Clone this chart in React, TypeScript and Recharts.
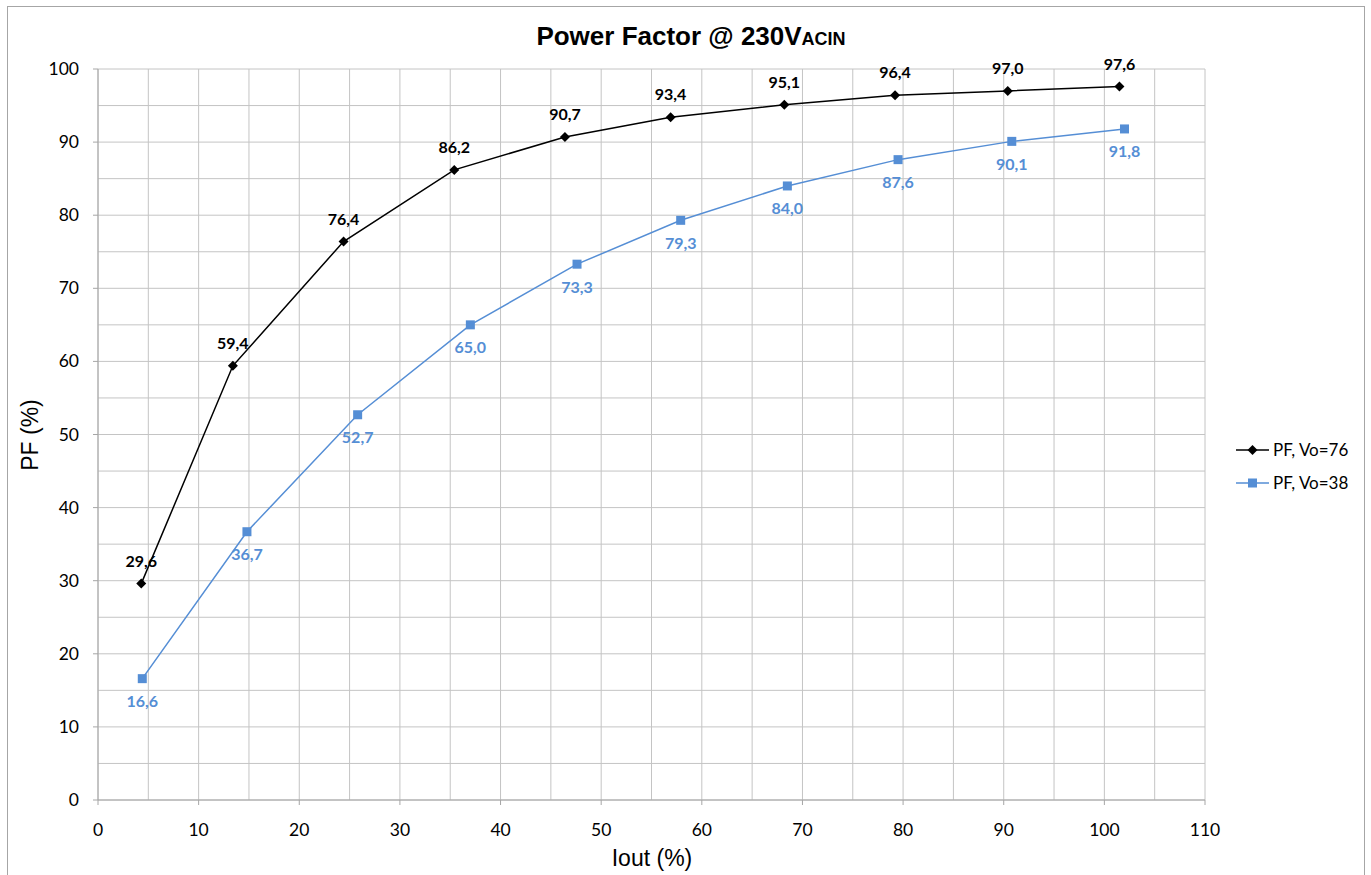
import { CartesianGrid, LabelList, Line, LineChart, XAxis, YAxis } from 'recharts';

const iout76 = [4.3, 13.4, 24.4, 35.4, 46.4, 56.9, 68.2, 79.2, 90.4, 101.5];
const pf76 = [29.6, 59.4, 76.4, 86.2, 90.7, 93.4, 95.1, 96.4, 97.0, 97.6];
const iout38 = [4.4, 14.8, 25.8, 37.0, 47.6, 57.9, 68.5, 79.5, 90.8, 102.0];
const pf38 = [16.6, 36.7, 52.7, 65.0, 73.3, 79.3, 84.0, 87.6, 90.1, 91.8];
const xTicks = [0, 5, 10, 15, 20, 25, 30, 35, 40, 45, 50, 55, 60, 65, 70, 75, 80, 85, 90, 95, 100, 105, 110];
const yTicks = [0, 5, 10, 15, 20, 25, 30, 35, 40, 45, 50, 55, 60, 65, 70, 75, 80, 85, 90, 95, 100];

const BLUE = '#558ed5';
const GRID = '#c4c4c4';
const AXIS = '#a6a6a6';
const LABEL_FONT = 'Lato, "Open Sans", sans-serif';
const ARIAL = '"Liberation Sans", Arial, sans-serif';

const data76 = iout76.map((x, i) => ({ x, y: pf76[i] }));
const data38 = iout38.map((x, i) => ({ x, y: pf38[i] }));
const fmt = (v: any) => Number(v).toFixed(1).replace('.', ',');

const XTick = ({ x, y, payload }: any) => {
  if (payload.value % 10 !== 0) return <g />;
  return (
    <g>
      <line x1={x} x2={x} y1={y} y2={y + 5} stroke={AXIS} />
      <text x={x} y={y + 30} dy={6} textAnchor="middle" fontSize={17.5} fontFamily={LABEL_FONT} fill="#000">
        {payload.value}
      </text>
    </g>
  );
};

const YTick = ({ x, y, payload }: any) => {
  if (payload.value % 10 !== 0) return <g />;
  return (
    <g>
      <line x1={x - 5} x2={x} y1={y} y2={y} stroke={AXIS} />
      <text x={x - 19} y={y} dy={6} textAnchor="end" fontSize={17.5} fontFamily={LABEL_FONT} fill="#000">
        {payload.value}
      </text>
    </g>
  );
};

const Diamond = (props: any) => {
  const { cx, cy, index } = props;
  if (cx == null || cy == null) return <g key={index} />;
  return <path key={index} d={`M${cx},${cy - 5}L${cx + 5},${cy}L${cx},${cy + 5}L${cx - 5},${cy}Z`} fill="#000" />;
};

const Square = (props: any) => {
  const { cx, cy, index } = props;
  if (cx == null || cy == null) return <g key={index} />;
  return <rect key={index} x={cx - 4.5} y={cy - 4.5} width={9} height={9} fill={BLUE} />;
};

export default function App() {
  return (
    <div
      style={{
        position: 'absolute',
        left: 7,
        top: 6,
        width: 1358,
        height: 880,
        border: '1px solid #a6a6a6',
        background: '#fff',
        boxSizing: 'border-box',
      }}
    >
      <div
        style={{
          position: 'absolute',
          left: 683,
          top: 14,
          transform: 'translateX(-50%)',
          fontFamily: ARIAL,
          fontWeight: 'bold',
          fontSize: 26,
          whiteSpace: 'nowrap',
        }}
      >
        Power Factor @ 230V<span style={{ fontSize: 18 }}>ACIN</span>
      </div>
      <div
        style={{
          position: 'absolute',
          left: 22,
          top: 428,
          transform: 'translate(-50%, -50%) rotate(-90deg)',
          fontFamily: ARIAL,
          fontSize: 23,
          whiteSpace: 'nowrap',
        }}
      >
        PF (%)
      </div>
      <div
        style={{
          position: 'absolute',
          left: 644,
          top: 851,
          transform: 'translate(-50%, -50%)',
          fontFamily: ARIAL,
          fontSize: 23,
          whiteSpace: 'nowrap',
        }}
      >
        Iout (%)
      </div>
      <div style={{ position: 'absolute', left: 1228, top: 426, fontFamily: LABEL_FONT, fontSize: 17 }}>
        <div style={{ display: 'flex', alignItems: 'center', height: 33 }}>
          <svg width={34} height={12}>
            <line x1={0} x2={33} y1={6} y2={6} stroke="#000" strokeWidth={1.5} />
            <path d="M16.5,1L21.5,6L16.5,11L11.5,6Z" fill="#000" />
          </svg>
          <span style={{ marginLeft: 3 }}>PF, Vo=76</span>
        </div>
        <div style={{ display: 'flex', alignItems: 'center', height: 33 }}>
          <svg width={34} height={12}>
            <line x1={0} x2={33} y1={6} y2={6} stroke={BLUE} strokeWidth={1.5} />
            <rect x={12} y={1.5} width={9} height={9} fill={BLUE} />
          </svg>
          <span style={{ marginLeft: 3 }}>PF, Vo=38</span>
        </div>
      </div>
      <div style={{ position: 'absolute', left: 0, top: 0 }}>
        <LineChart width={1356} height={870} margin={{ top: 62, right: 159, left: 40, bottom: 37 }}>
          <CartesianGrid stroke={GRID} strokeWidth={1} />
          <XAxis
            type="number"
            dataKey="x"
            domain={[0, 110]}
            ticks={xTicks}
            interval={0}
            height={40}
            stroke={AXIS}
            tickLine={false}
            tickSize={0}
            tickMargin={0}
            tick={<XTick />}
            allowDuplicatedCategory={false}
          />
          <YAxis
            type="number"
            domain={[0, 100]}
            ticks={yTicks}
            interval={0}
            width={50}
            stroke={AXIS}
            tickLine={false}
            tickSize={0}
            tickMargin={0}
            tick={<YTick />}
          />
          <Line
            data={data76}
            dataKey="y"
            name="PF, Vo=76"
            stroke="#000"
            strokeWidth={1.5}
            dot={Diamond}
            activeDot={false}
            isAnimationActive={false}
          >
            <LabelList
              dataKey="y"
              position="top"
              offset={17}
              formatter={fmt}
              fill="#000"
              fontSize={16}
              fontWeight="bold"
              fontFamily={LABEL_FONT}
            />
          </Line>
          <Line
            data={data38}
            dataKey="y"
            name="PF, Vo=38"
            stroke={BLUE}
            strokeWidth={1.5}
            dot={Square}
            activeDot={false}
            isAnimationActive={false}
          >
            <LabelList
              dataKey="y"
              position="bottom"
              offset={17}
              formatter={fmt}
              fill={BLUE}
              fontSize={16}
              fontWeight="bold"
              fontFamily={LABEL_FONT}
            />
          </Line>
        </LineChart>
      </div>
    </div>
  );
}
